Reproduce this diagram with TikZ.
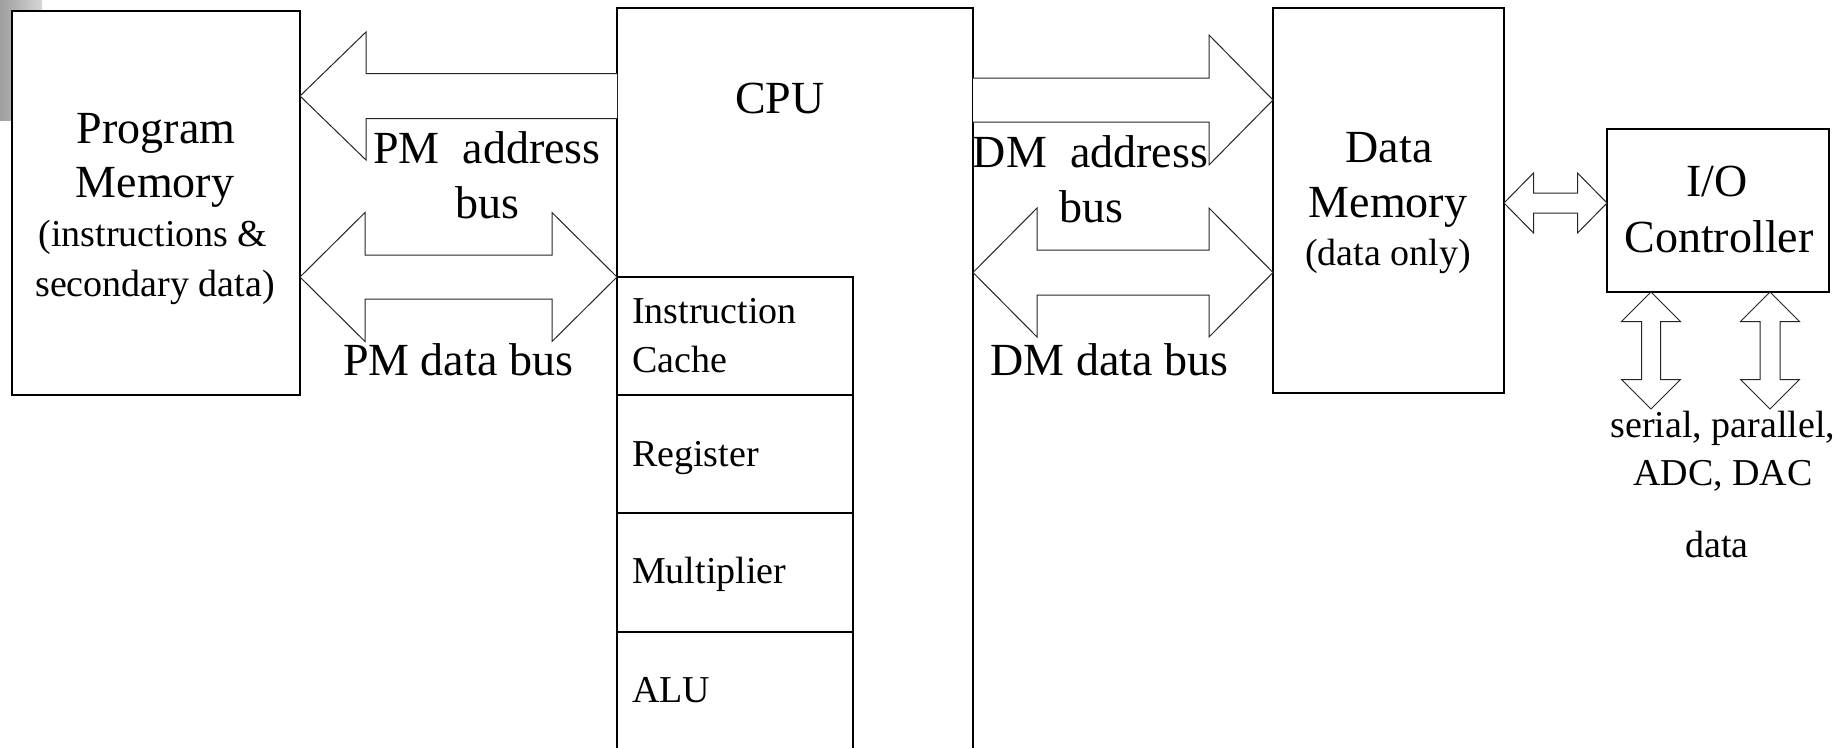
\documentclass[tikz,border=0pt]{standalone}
\usepackage{fontspec}
\setmainfont{Liberation Serif}
\usetikzlibrary{calc}

\tikzset{
  unitbox/.style={draw=black, line width=2.4pt, fill=white, rectangle, inner sep=0pt, outer sep=0pt},
  busarrow/.style={draw=black!85, line width=1pt, fill=white, line join=miter},
  bigtext/.style={font=\fontsize{46}{55}\selectfont, inner sep=0pt, anchor=base},
  smalltext/.style={font=\fontsize{38}{46}\selectfont, inner sep=0pt, anchor=base},
  celltext/.style={smalltext, anchor=base west},
}

% Two-headed block arrow: #1 and #2 tips, #3 head length, #4 head half-width, #5 shaft half-width
\newcommand\busboth[5]{%
  \coordinate (hA) at ($(#1)!#3!(#2)$);
  \coordinate (hB) at ($(#2)!#3!(#1)$);
  \path[busarrow] (#1)
    -- ($(hA)!#4!90:(#2)$) -- ($(hA)!#5!90:(#2)$)
    -- ($(hB)!#5!-90:(#1)$) -- ($(hB)!#4!-90:(#1)$)
    -- (#2)
    -- ($(hB)!#4!90:(#1)$) -- ($(hB)!#5!90:(#1)$)
    -- ($(hA)!#5!-90:(#2)$) -- ($(hA)!#4!-90:(#2)$)
    -- cycle;
}
% One-headed block arrow: flat tail at #1, tip at #2
\newcommand\busone[5]{%
  \coordinate (hB) at ($(#2)!#3!(#1)$);
  \path[busarrow] ($(#1)!#5!90:(#2)$)
    -- ($(hB)!#5!-90:(#1)$) -- ($(hB)!#4!-90:(#1)$)
    -- (#2)
    -- ($(hB)!#4!90:(#1)$) -- ($(hB)!#5!90:(#1)$)
    -- ($(#1)!#5!-90:(#2)$);
}

\begin{document}
\begin{tikzpicture}[x=1pt, y=-1pt]
\useasboundingbox (0,0) rectangle (1844,747);
\clip (0,0) rectangle (1844,747);
\fill[white] (0,0) rectangle (1844,747);

% grey corner tab
\shade[left color=black!38, right color=black!16] (0,0) rectangle (42,120);

% blocks
\node[unitbox, minimum width=288pt, minimum height=384pt] (pm) at (156,203) {};
\node[unitbox, minimum width=356pt, minimum height=762pt] (cpu) at (795,389) {};
\node[unitbox, minimum width=236pt, minimum height=118pt] (ic)  at (735,336) {};
\node[unitbox, minimum width=236pt, minimum height=118pt] (reg) at (735,454) {};
\node[unitbox, minimum width=236pt, minimum height=119pt] (mul) at (735,572.5) {};
\node[unitbox, minimum width=236pt, minimum height=119pt] (alu) at (735,691.5) {};
\node[unitbox, minimum width=231pt, minimum height=385pt] (dm) at (1388.5,200.5) {};
\node[unitbox, minimum width=222pt, minimum height=163pt] (io) at (1718,210.5) {};

% bus levels
\coordinate (lvpma) at (0,96);
\coordinate (lvpmd) at (0,277);
\coordinate (lvdma) at (0,100);
\coordinate (lvdmd) at (0,272.5);
\coordinate (lvio)  at (0,203);
\coordinate (ioend1) at (1651,409);
\coordinate (ioend2) at (1770,409);

% buses
\busone{cpu.west |- lvpma}{pm.east |- lvpma}{66pt}{64pt}{22.5pt}
\busboth{pm.east |- lvpmd}{cpu.west |- lvpmd}{65pt}{64.5pt}{22pt}
\busone{cpu.east |- lvdma}{dm.west |- lvdma}{64pt}{65pt}{22pt}
\busboth{cpu.east |- lvdmd}{dm.west |- lvdmd}{64pt}{64.5pt}{22.5pt}
\busboth{dm.east |- lvio}{io.west |- lvio}{29.5pt}{30pt}{10pt}
\busboth{io.south -| ioend1}{ioend1}{29.5pt}{29.5pt}{9.5pt}
\busboth{io.south -| ioend2}{ioend2}{29.5pt}{29.5pt}{10pt}

% block labels
\node[bigtext] (pm1) at (156,143) {Program};
\node[bigtext] (pm2) at (155,197) {Memory};
\node[smalltext] (pm3) at (153,246) {(instructions \&};
\node[smalltext] (pm4) at (155,296) {secondary data)};

\node[bigtext] (cpul) at (780,113) {CPU};
\node[celltext] (icl1) at (632,323) {Instruction};
\node[celltext] (icl2) at (632,372) {Cache};
\node[celltext] (regl) at (632,466) {Register};
\node[celltext] (mull) at (632,583) {Multiplier};
\node[celltext] (alul) at (632,702) {ALU};

\node[bigtext] (dm1) at (1389,162) {Data};
\node[bigtext] (dm2) at (1388,217) {Memory};
\node[smalltext] (dm3) at (1388,265) {(data only)};

\node[bigtext] (io1) at (1717,196) {I/O};
\node[bigtext] (io2) at (1719,252) {Controller};

% bus labels
\node[bigtext] (pmal1) at (487,163) {PM\ \ address};
\node[bigtext] (pmal2) at (487.5,218) {bus};
\node[bigtext] (pmdl) at (458,375) {PM data bus};
\node[bigtext] (dmal1) at (1090.5,167) {DM\ \ address};
\node[bigtext] (dmal2) at (1091,222) {bus};
\node[bigtext] (dmdl) at (1109.5,375) {DM data bus};

\node[smalltext] (iol1) at (1723,437) {serial, parallel,};
\node[smalltext] (iol2) at (1723,485) {ADC, DAC};
\node[smalltext] (iol3) at (1717,557) {data};
\end{tikzpicture}
\end{document}
